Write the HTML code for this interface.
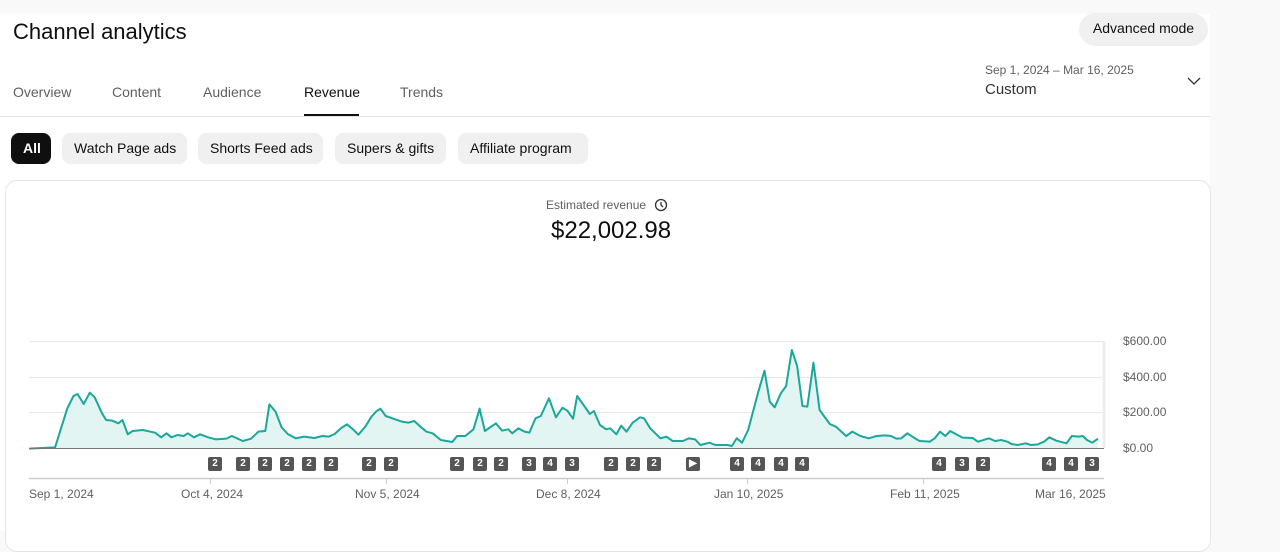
<!DOCTYPE html>
<html><head><meta charset="utf-8"><style>
body{margin:0;width:1280px;height:531px;overflow:hidden;background:#f9f9f9;font-family:"Liberation Sans",sans-serif;color:#0f0f0f;position:relative}
.main{position:absolute;left:0;top:14px;width:1210px;height:517px;background:#fff}
.a{position:absolute;white-space:nowrap}
.tab{font-size:14px;color:#606060;top:84px}
.chip{position:absolute;top:133px;height:31px;line-height:31px;border-radius:8px;background:#f0f0f0;font-size:14px;padding:0 12px;white-space:nowrap;box-sizing:border-box}
.card{position:absolute;left:5px;top:180px;width:1204px;height:370px;border:1px solid #e5e5e5;border-radius:12px;background:#fff}
.b{position:absolute;top:457px;width:14px;height:14px;background:#555;border-radius:2px;color:#fff;font-size:10px;font-weight:bold;text-align:center;line-height:14px}
.xl{position:absolute;top:487px;font-size:12px;color:#606060}
.yl{position:absolute;left:1123px;font-size:12px;color:#606060}
</style></head><body>
<div class="main"></div>
<div class="a" style="left:13px;top:19px;font-size:22px;">Channel analytics</div>
<div class="a" style="left:1079px;top:13px;width:129px;height:33px;border-radius:17px;background:#f0f0f0;font-size:14px;line-height:31px;text-align:center">Advanced mode</div>
<div class="a" style="left:985px;top:63px;font-size:12px;color:#606060">Sep 1, 2024 – Mar 16, 2025</div>
<div class="a" style="left:985px;top:81px;font-size:15px;color:#333">Custom</div>
<svg style="position:absolute;left:1186px;top:76px" width="16" height="10"><path d="M2 2 L8 8 L14 2" fill="none" stroke="#333" stroke-width="1.3"/></svg>
<div class="a tab" style="left:13px">Overview</div>
<div class="a tab" style="left:112px">Content</div>
<div class="a tab" style="left:203px">Audience</div>
<div class="a tab" style="left:304px;color:#0f0f0f">Revenue</div>
<div class="a tab" style="left:400px">Trends</div>
<div class="a" style="left:304px;top:114px;width:55px;height:2px;background:#0f0f0f"></div>
<div class="a" style="left:0;top:116px;width:1210px;height:1px;background:#e5e5e5"></div>
<div class="chip" style="left:11px;width:40px;background:#0f0f0f;color:#fff;font-weight:bold">All</div>
<div class="chip" style="left:62px;width:125px">Watch Page ads</div>
<div class="chip" style="left:198px;width:125px">Shorts Feed ads</div>
<div class="chip" style="left:335px;width:111px">Supers &amp; gifts</div>
<div class="chip" style="left:458px;width:130px">Affiliate program</div>
<div class="card"></div>
<div class="a" style="left:546px;top:198px;font-size:12px;color:#606060">Estimated revenue</div>
<svg style="position:absolute;left:654px;top:198px" width="14" height="14"><circle cx="7" cy="7" r="5.5" fill="none" stroke="#333" stroke-width="1.3"/><path d="M7 4 V7 L9 9" fill="none" stroke="#333" stroke-width="1.3"/></svg>
<div class="a" style="left:551px;top:217px;font-size:24px">$22,002.98</div>
<svg style="position:absolute;left:0;top:0" width="1280" height="531">
<g stroke="#e8e8e8" stroke-width="1"><line x1="29" y1="341.5" x2="1104" y2="341.5"/><line x1="29" y1="377.5" x2="1104" y2="377.5"/><line x1="29" y1="412.5" x2="1104" y2="412.5"/></g>
<line x1="1104" y1="341" x2="1104" y2="448" stroke="#eee" stroke-width="3"/>
<line x1="29" y1="478.5" x2="1104" y2="478.5" stroke="#ccc" stroke-width="1.5"/>
<g transform="translate(0,330) scale(0.40816,0.33333)">
<path d="M72,356 L135,352 165,235 180,198 190,192 205,222 220,188 232,202 250,250 260,270 275,272 290,280 300,270 313,313 325,303 350,300 380,308 395,322 408,310 420,322 435,315 450,318 460,310 475,322 490,313 510,322 528,328 555,326 568,318 595,333 615,326 633,305 650,303 660,223 675,245 690,292 705,312 725,325 745,320 770,324 790,318 805,320 820,312 835,295 850,283 865,298 878,314 895,290 910,260 922,244 932,236 945,258 985,275 1000,278 1015,273 1030,290 1045,305 1060,310 1080,330 1108,336 1120,318 1140,318 1160,298 1175,236 1188,303 1215,280 1230,302 1245,298 1255,310 1270,295 1285,305 1297,308 1312,265 1325,258 1345,205 1362,262 1378,233 1390,242 1404,266 1414,198 1428,222 1445,252 1455,243 1470,285 1485,298 1495,295 1510,313 1522,287 1535,305 1550,278 1568,262 1578,265 1593,295 1618,325 1633,320 1648,333 1673,333 1688,325 1703,328 1716,345 1738,338 1753,345 1783,345 1793,348 1805,325 1818,338 1833,300 1846,240 1858,185 1873,122 1886,215 1898,232 1913,190 1926,168 1940,60 1953,108 1966,228 1978,230 1993,98 2008,240 2033,282 2048,290 2073,318 2088,305 2108,318 2128,325 2148,318 2168,316 2183,318 2196,326 2208,325 2223,310 2238,322 2253,333 2278,335 2290,325 2303,305 2316,318 2328,303 2346,315 2358,323 2383,324 2396,335 2423,325 2438,333 2453,330 2468,335 2478,342 2493,345 2513,340 2526,345 2543,343 2558,335 2571,322 2588,332 2613,340 2626,318 2643,320 2653,318 2663,330 2676,338 2690,326 L2690,355 L72,355 Z" fill="#e3f5f3" stroke="none"/>
<path d="M72,356 L135,352 165,235 180,198 190,192 205,222 220,188 232,202 250,250 260,270 275,272 290,280 300,270 313,313 325,303 350,300 380,308 395,322 408,310 420,322 435,315 450,318 460,310 475,322 490,313 510,322 528,328 555,326 568,318 595,333 615,326 633,305 650,303 660,223 675,245 690,292 705,312 725,325 745,320 770,324 790,318 805,320 820,312 835,295 850,283 865,298 878,314 895,290 910,260 922,244 932,236 945,258 985,275 1000,278 1015,273 1030,290 1045,305 1060,310 1080,330 1108,336 1120,318 1140,318 1160,298 1175,236 1188,303 1215,280 1230,302 1245,298 1255,310 1270,295 1285,305 1297,308 1312,265 1325,258 1345,205 1362,262 1378,233 1390,242 1404,266 1414,198 1428,222 1445,252 1455,243 1470,285 1485,298 1495,295 1510,313 1522,287 1535,305 1550,278 1568,262 1578,265 1593,295 1618,325 1633,320 1648,333 1673,333 1688,325 1703,328 1716,345 1738,338 1753,345 1783,345 1793,348 1805,325 1818,338 1833,300 1846,240 1858,185 1873,122 1886,215 1898,232 1913,190 1926,168 1940,60 1953,108 1966,228 1978,230 1993,98 2008,240 2033,282 2048,290 2073,318 2088,305 2108,318 2128,325 2148,318 2168,316 2183,318 2196,326 2208,325 2223,310 2238,322 2253,333 2278,335 2290,325 2303,305 2316,318 2328,303 2346,315 2358,323 2383,324 2396,335 2423,325 2438,333 2453,330 2468,335 2478,342 2493,345 2513,340 2526,345 2543,343 2558,335 2571,322 2588,332 2613,340 2626,318 2643,320 2653,318 2663,330 2676,338 2690,326" fill="none" stroke="#1ba79a" stroke-width="2" vector-effect="non-scaling-stroke" stroke-linejoin="round"/>
</g>
<line x1="29" y1="448.5" x2="1104" y2="448.5" stroke="#777" stroke-width="1"/>
<g stroke="#ccc"><line x1="210.5" y1="478" x2="210.5" y2="484"/><line x1="386.5" y1="478" x2="386.5" y2="484"/><line x1="567.5" y1="478" x2="567.5" y2="484"/><line x1="747.5" y1="478" x2="747.5" y2="484"/><line x1="923.5" y1="478" x2="923.5" y2="484"/></g>
</svg>
<div class="yl" style="top:334px">$600.00</div>
<div class="yl" style="top:370px">$400.00</div>
<div class="yl" style="top:405px">$200.00</div>
<div class="yl" style="top:441px">$0.00</div>
<div class="xl" style="left:29px">Sep 1, 2024</div>
<div class="xl" style="left:181px">Oct 4, 2024</div>
<div class="xl" style="left:355px">Nov 5, 2024</div>
<div class="xl" style="left:536px">Dec 8, 2024</div>
<div class="xl" style="left:714px">Jan 10, 2025</div>
<div class="xl" style="left:890px">Feb 11, 2025</div>
<div class="xl" style="left:1035px">Mar 16, 2025</div>
<div class="b" style="left:208px">2</div><div class="b" style="left:236px">2</div><div class="b" style="left:258px">2</div><div class="b" style="left:280px">2</div><div class="b" style="left:302px">2</div><div class="b" style="left:324px">2</div>
<div class="b" style="left:362px">2</div><div class="b" style="left:384px">2</div>
<div class="b" style="left:450px">2</div><div class="b" style="left:473px">2</div><div class="b" style="left:494px">2</div><div class="b" style="left:522px">3</div><div class="b" style="left:543px">4</div><div class="b" style="left:565px">3</div>
<div class="b" style="left:604px">2</div><div class="b" style="left:626px">2</div><div class="b" style="left:647px">2</div>
<div class="b" style="left:686px">▶</div>
<div class="b" style="left:730px">4</div><div class="b" style="left:751px">4</div><div class="b" style="left:774px">4</div><div class="b" style="left:795px">4</div>
<div class="b" style="left:932px">4</div><div class="b" style="left:955px">3</div><div class="b" style="left:976px">2</div>
<div class="b" style="left:1042px">4</div><div class="b" style="left:1064px">4</div><div class="b" style="left:1085px">3</div>
</body></html>
